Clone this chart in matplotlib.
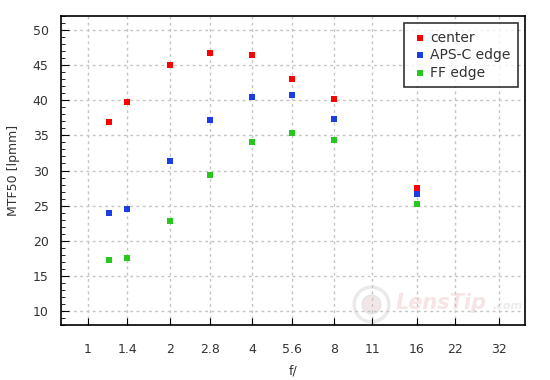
#------------------------------------------------------------------------------
#	Libraries
#------------------------------------------------------------------------------
import numpy as np
import matplotlib
matplotlib.use('Agg')
from matplotlib import pyplot as plt
from matplotlib.ticker import FixedLocator, NullFormatter, MultipleLocator


#------------------------------------------------------------------------------
#	Data
#------------------------------------------------------------------------------
apertures = [1.2, 1.4, 2, 2.8, 4, 5.6, 8, 16]
center = [36.9, 39.8, 45.0, 46.7, 46.4, 43.0, 40.2, 27.5]
apsc_edge = [23.9, 24.5, 31.3, 37.2, 40.4, 40.7, 37.4, 26.6]
ff_edge = [17.2, 17.6, 22.8, 29.3, 34.1, 35.4, 34.3, 25.3]

xtick_vals = [1, 1.4, 2, 2.8, 4, 5.6, 8, 11, 16, 22, 32]
xtick_labels = ['1', '1.4', '2', '2.8', '4', '5.6', '8', '11', '16', '22', '32']

series = [
	('center', center, '#ff0000'),
	('APS-C edge', apsc_edge, '#1a3de6'),
	('FF edge', ff_edge, '#26c81e'),
]


#------------------------------------------------------------------------------
#	Plot
#------------------------------------------------------------------------------
plt.rcParams['font.family'] = ['DejaVu Sans']
text_col = '#333333'

fig = plt.figure(figsize=(5.5, 3.8), dpi=100)
ax = fig.add_axes([61/550, 1-325/380, (525-61)/550, (325-16)/380])

# Watermark (faint, behind everything)
ax.text(0.918, 0.072, 'LensTip', transform=ax.transAxes, fontsize=15,
	fontweight='bold', style='italic', color='#f7e4e4', ha='right', va='center',
	zorder=0)
ax.text(0.93, 0.062, '.com', transform=ax.transAxes, fontsize=8,
	fontweight='bold', style='italic', color='#ececec', ha='left', va='center',
	zorder=0)
ax.plot([0.668], [0.068], transform=ax.transAxes, marker='o', markersize=25,
	markerfacecolor='none', markeredgecolor='#eaeaea', markeredgewidth=2.5,
	zorder=0)
ax.plot([0.668], [0.068], transform=ax.transAxes, marker='o', markersize=13,
	markerfacecolor='#f3e6e6', markeredgecolor='#e6e6e6', markeredgewidth=1.5,
	zorder=0)

for name, vals, col in series:
	ax.scatter(apertures, vals, marker='s', s=25, color=col, label=name,
		linewidths=0, zorder=3)

ax.set_xscale('log', base=2)
ax.set_xlim(0.8, 39.8)
ax.set_ylim(8, 52)

ax.xaxis.set_major_locator(FixedLocator(xtick_vals))
ax.set_xticklabels(xtick_labels)
ax.xaxis.set_minor_formatter(NullFormatter())
ax.xaxis.set_minor_locator(FixedLocator([]))
ax.yaxis.set_major_locator(FixedLocator([10, 15, 20, 25, 30, 35, 40, 45, 50]))
ax.yaxis.set_minor_locator(MultipleLocator(1))

ax.tick_params(axis='both', which='both', direction='in', colors='black',
	labelcolor=text_col, labelsize=9)
ax.tick_params(axis='x', which='major', length=5, pad=13)
ax.tick_params(axis='y', which='major', length=6, pad=9)
ax.tick_params(axis='y', which='minor', length=3)

ax.grid(True, which='major', color='#c4c4c4', linestyle=(0, (2, 2.5)),
	linewidth=1)
for s in ax.spines.values():
	s.set_linewidth(1.2)

ax.set_xlabel('f/', fontsize=9, color=text_col, labelpad=6)
ax.set_ylabel('MTF50 [lpmm]', fontsize=9, color=text_col, labelpad=9)

leg = ax.legend(loc='upper right', fontsize=10, frameon=True, fancybox=False,
	edgecolor='black', handletextpad=0.2, handlelength=1.1, markerscale=0.9,
	borderpad=0.55, labelspacing=0.25, borderaxespad=0.5)
leg.get_frame().set_linewidth(1.2)
for t in leg.get_texts():
	t.set_color(text_col)

plt.savefig('out.png', dpi=100)
